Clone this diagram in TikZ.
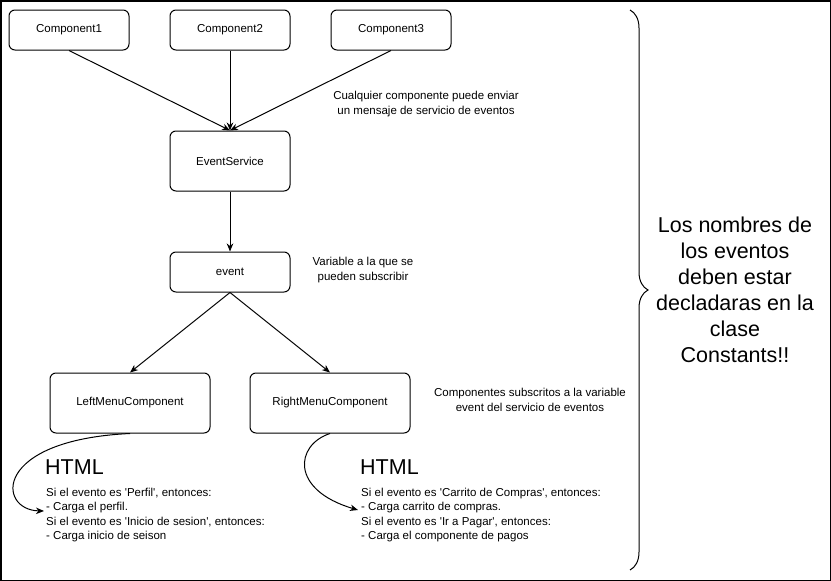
\documentclass[tikz,border=0pt]{standalone}
\usepackage{fontspec}
\setmainfont{Liberation Sans}
\usetikzlibrary{arrows.meta, positioning, decorations.pathreplacing}

\newcommand{\diagfont}{\fontsize{11.5}{14.5}\selectfont}
\newcommand{\notefont}{\fontsize{21.5}{25.9}\selectfont}
\newcommand{\sq}{\textquotesingle}

\begin{document}
\begin{tikzpicture}[
    x=1pt, y=-1pt,
    node distance=40pt,
    comp/.style={rectangle, rounded corners=6pt, draw, line width=1pt, minimum width=120pt, minimum height=40pt, font=\diagfont, align=center},
    bigcomp/.style={comp, minimum height=60pt},
    menucomp/.style={comp, minimum width=160pt, minimum height=60pt},
    note/.style={font=\diagfont, align=center, inner sep=0pt},
    textblock/.style={font=\diagfont, align=left, inner sep=0pt, anchor=north west},
    htmlhead/.style={font=\notefont, inner sep=0pt, anchor=west},
    bignote/.style={font=\notefont, align=center, inner sep=0pt},
    arrow/.style={-{Stealth[length=8pt, width=6.5pt, inset=2.5pt]}, line width=1pt},
    bracket/.style={decorate, decoration={brace, amplitude=18pt}, line width=1pt}
]
\useasboundingbox (0,0) rectangle (831,581);
\draw[line width=1.5pt] (0.75,0.75) rectangle (830.25,580.25);

% components that send events
\node[comp] (comp2) at (230,30) {Component2};
\node[comp, left=of comp2] (comp1) {Component1};
\node[comp, right=of comp2] (comp3) {Component3};

\node[bigcomp, below=80pt of comp2] (evserv) {EventService};
\node[comp, below=60pt of evserv] (event) {event};

% subscribed components
\node[menucomp, below=80pt of event, xshift=-100pt] (leftmenu) {LeftMenuComponent};
\node[menucomp, below=80pt of event, xshift=100pt] (rightmenu) {RightMenuComponent};

\draw[arrow] (comp1.south) -- (evserv.north);
\draw[arrow] (comp2.south) -- (evserv.north);
\draw[arrow] (comp3.south) -- (evserv.north);
\draw[arrow] (evserv) -- (event);
\draw[arrow] (event.south) -- (leftmenu.north);
\draw[arrow] (event.south) -- (rightmenu.north);

% notes
\node[note] (sendnote) at (426,104) {Cualquier componente puede enviar\\un mensaje de servicio de eventos};
\node[note] (varnote) at (363,270) {Variable a la que se\\pueden subscribir};
\node[note] (subnote) at (530,400) {Componentes subscritos a la variable\\event del servicio de eventos};

% html of each component
\node[htmlhead] (lefthtml) at (45,467) {HTML};
\node[textblock] (leftlist) at (46,487.5) {Si el evento es \sq Perfil\sq, entonces:\\- Carga el perfil.\\Si el evento es \sq Inicio de sesion\sq, entonces:\\- Carga inicio de seison};
\node[htmlhead] (righthtml) at (360,467) {HTML};
\node[textblock] (rightlist) at (361,487.5) {Si el evento es \sq Carrito de Compras\sq, entonces:\\- Carga carrito de compras.\\Si el evento es \sq Ir a Pagar\sq, entonces:\\- Carga el componente de pagos};

\coordinate (lefttip) at (44,511);
\coordinate (righttip) at (358,510);
\draw[arrow] (leftmenu.south) .. controls (-8,440) and (-3,510) .. (lefttip);
\draw[arrow] (rightmenu.south) .. controls (295,445) and (290,490) .. (righttip);

% constants note
\draw[bracket] (630,10) -- (630,570);
\node[bignote] (constnote) at (735,290) {Los nombres de\\los eventos\\deben estar\\decladaras en la\\clase\\Constants!!};

\end{tikzpicture}
\end{document}
